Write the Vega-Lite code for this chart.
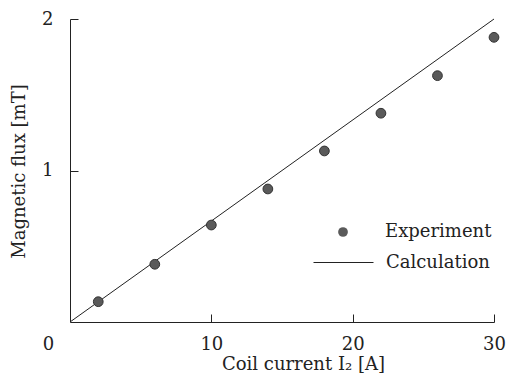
{
  "$schema": "https://vega.github.io/schema/vega-lite/v6.json",
  "width": 424,
  "height": 303,
  "autosize": {"type": "none"},
  "padding": {"left": 70, "top": 19, "right": 12, "bottom": 55},
  "background": "white",
  "config": {
    "view": {"stroke": null},
    "font": "DejaVu Serif",
    "axis": {
      "grid": false,
      "domainColor": "#222",
      "domainWidth": 1,
      "tickColor": "#222",
      "tickWidth": 1,
      "labelColor": "#222",
      "titleColor": "#222",
      "labelFont": "DejaVu Serif",
      "titleFont": "DejaVu Serif",
      "labelFontSize": 18,
      "titleFontSize": 18,
      "titleFontWeight": "normal"
    },
    "legend": {
      "labelFont": "DejaVu Serif",
      "labelFontSize": 18,
      "labelColor": "#222",
      "padding": 0
    }
  },
  "datasets": {
    "experiment": [
      {"current": 2, "flux": 0.134},
      {"current": 6, "flux": 0.381},
      {"current": 10, "flux": 0.64},
      {"current": 14, "flux": 0.878},
      {"current": 18, "flux": 1.129},
      {"current": 22, "flux": 1.378},
      {"current": 26, "flux": 1.626},
      {"current": 30, "flux": 1.879}
    ],
    "calculation": [
      {"current": 0, "flux": 0},
      {"current": 30, "flux": 2}
    ]
  },
  "layer": [
    {
      "data": {"name": "calculation"},
      "mark": {"type": "line", "strokeWidth": 1},
      "encoding": {
        "x": {
          "field": "current",
          "type": "quantitative",
          "scale": {"domain": [0, 30], "nice": false, "zero": false},
          "axis": {
            "values": [0, 10, 20, 30],
            "format": "d",
            "tickSize": -8,
            "labelPadding": 21,
            "labelFlush": false,
            "labelOffset": {"condition": {"test": "datum.value == 0", "value": -22}, "value": 0},
            "tickOpacity": {"condition": {"test": "datum.value == 0", "value": 0}, "value": 1},
            "title": "Coil current I₂ [A]",
            "titleX": 233,
            "titleY": 42,
            "titleAlign": "center",
            "titleBaseline": "middle"
          }
        },
        "y": {
          "field": "flux",
          "type": "quantitative",
          "scale": {"domain": [0, 2], "nice": false},
          "axis": {
            "values": [1, 2],
            "format": "d",
            "tickSize": -8,
            "labelPadding": 25,
            "labelFlush": false,
            "title": "Magnetic flux [mT]",
            "titleX": -51,
            "titleY": 152,
            "titleAngle": -90,
            "titleAlign": "center",
            "titleBaseline": "middle"
          }
        },
        "color": {
          "datum": "Calculation",
          "scale": {"range": ["#222"]},
          "legend": {
            "title": null,
            "orient": "none",
            "legendX": 243,
            "legendY": 213,
            "symbolType": "stroke",
            "symbolSize": 3600,
            "symbolStrokeWidth": 1,
            "labelOffset": 12
          }
        }
      }
    },
    {
      "data": {"name": "experiment"},
      "mark": {"type": "point", "filled": true, "fill": "#5a5a5a", "stroke": "#333", "strokeWidth": 1, "size": 95, "opacity": 1},
      "encoding": {
        "x": {"field": "current", "type": "quantitative"},
        "y": {"field": "flux", "type": "quantitative"},
        "shape": {
          "datum": "Experiment",
          "scale": {"range": ["circle"]},
          "legend": {
            "title": null,
            "orient": "none",
            "legendX": 264,
            "legendY": 204,
            "symbolSize": 95,
            "symbolFillColor": "#5a5a5a",
            "symbolStrokeColor": "#333",
            "symbolStrokeWidth": 1,
            "symbolOpacity": 1,
            "labelOffset": 33
          }
        }
      }
    }
  ]
}
